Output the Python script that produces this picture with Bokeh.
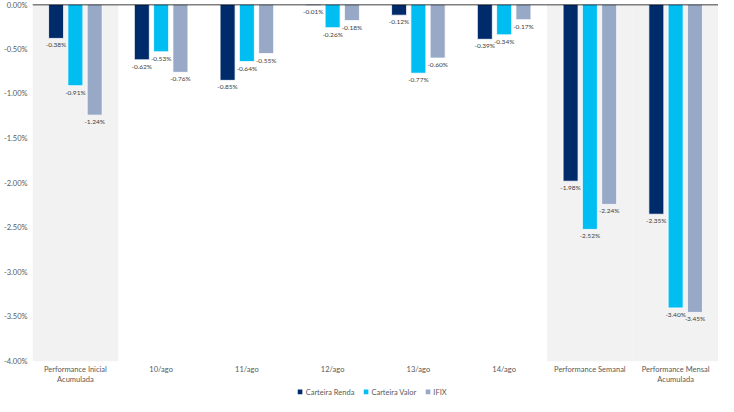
from bokeh.plotting import figure
from bokeh.layouts import column
from bokeh.models import (ColumnDataSource, Range1d, FixedTicker, PrintfTickFormatter, Span,
                          Legend, LegendItem)
from bokeh.core.properties import value
from bokeh.embed import file_html
from bokeh.resources import INLINE

categories = ["Performance Inicial\nAcumulada", "10/ago", "11/ago", "12/ago", "13/ago", "14/ago",
              "Performance Semanal", "Performance Mensal\nAcumulada"]
series_names = ["Carteira Renda", "Carteira Valor", "IFIX"]
renda = [-0.38, -0.62, -0.85, -0.01, -0.12, -0.39, -1.98, -2.35]
valor = [-0.91, -0.53, -0.64, -0.26, -0.77, -0.34, -2.52, -3.40]
ifix = [-1.24, -0.76, -0.55, -0.18, -0.60, -0.17, -2.24, -3.45]
shaded = [0, 6, 7]
y_ticks = [-4.0, -3.5, -3.0, -2.5, -2.0, -1.5, -1.0, -0.5, 0.0]

colors = ["#002B6B", "#00BDF2", "#97A9C7"]
FONT = "Lato"
n = len(categories)
series = [renda, valor, ifix]
width = 0.175
step = 0.225

p = figure(width=718, height=387, output_backend="svg", toolbar_location=None,
           x_range=Range1d(-0.5, n - 0.5), y_range=Range1d(-4.0, 0.0),
           min_border_top=4, min_border_right=0, min_border_left=4, min_border_bottom=0)
p.outline_line_color = None
p.xgrid.grid_line_color = None
p.ygrid.grid_line_color = None

# shaded background
sh = ColumnDataSource(dict(left=[i - 0.5 for i in shaded], right=[i + 0.5 for i in shaded],
                           top=[0.0] * len(shaded), bottom=[-4.0] * len(shaded)))
p.quad(left="left", right="right", top="top", bottom="bottom", source=sh,
       fill_color="#F2F2F2", line_color=None)

sources = []
for k, vals in enumerate(series):
    off = (k - 1) * step
    src = ColumnDataSource(dict(x=[i + off for i in range(n)], top=vals,
                                lab=["%.2f%%" % v for v in vals]))
    sources.append(src)
    p.vbar(x="x", top="top", bottom=0, width=width, source=src,
           fill_color=colors[k], line_color="white", line_width=0.8)
    p.text(x="x", y="top", text="lab", source=src, text_font=value(FONT),
           text_font_size="6.5px", text_color="#404040", text_align="center",
           text_baseline="top", y_offset=3)

p.add_layout(Span(location=0, dimension="width", line_color="black", line_width=1.5))

for ax in (p.xaxis[0], p.yaxis[0]):
    ax.axis_line_color = None
    ax.major_tick_line_color = None
    ax.minor_tick_line_color = None
    ax.major_tick_out = 0
    ax.major_tick_in = 0
    ax.minor_tick_out = 0
    ax.minor_tick_in = 0
    ax.axis_label_standoff = 0
    ax.major_label_text_font = FONT
    ax.major_label_text_font_size = "7.5px"
    ax.major_label_text_color = "#595959"

p.yaxis.ticker = FixedTicker(ticks=y_ticks)
p.yaxis.formatter = PrintfTickFormatter(format="%.2f%%")
p.yaxis.major_label_standoff = 5

p.xaxis.ticker = FixedTicker(ticks=list(range(n)))
p.xaxis.major_label_overrides = {i: c for i, c in enumerate(categories)}
p.xaxis.major_label_standoff = 3

# legend in a thin strip below the chart (bars there fall outside its visible range)
lf = figure(width=718, height=9, output_backend="svg", toolbar_location=None,
            x_range=Range1d(-0.5, n - 0.5), y_range=Range1d(0.5, 1),
            x_axis_location=None, y_axis_location=None,
            min_border=0)
lf.outline_line_color = None
lf.xgrid.grid_line_color = None
lf.ygrid.grid_line_color = None
items = []
for k, name in enumerate(series_names):
    r = lf.vbar(x="x", top="top", bottom=0, width=width, source=sources[k],
                fill_color=colors[k], line_color=None)
    items.append(LegendItem(label=name, renderers=[r]))
legend = Legend(items=items, orientation="horizontal", location="center",
                label_text_font=FONT, label_text_font_size="7.5px", label_text_color="#595959",
                glyph_width=6, glyph_height=6, label_height=8, label_standoff=3, spacing=8,
                padding=0, margin=0, border_line_color=None, background_fill_alpha=0)
lf.add_layout(legend, "center")

layout = column(p, lf, spacing=0)
open("out.html", "w").write(file_html(layout, INLINE))
